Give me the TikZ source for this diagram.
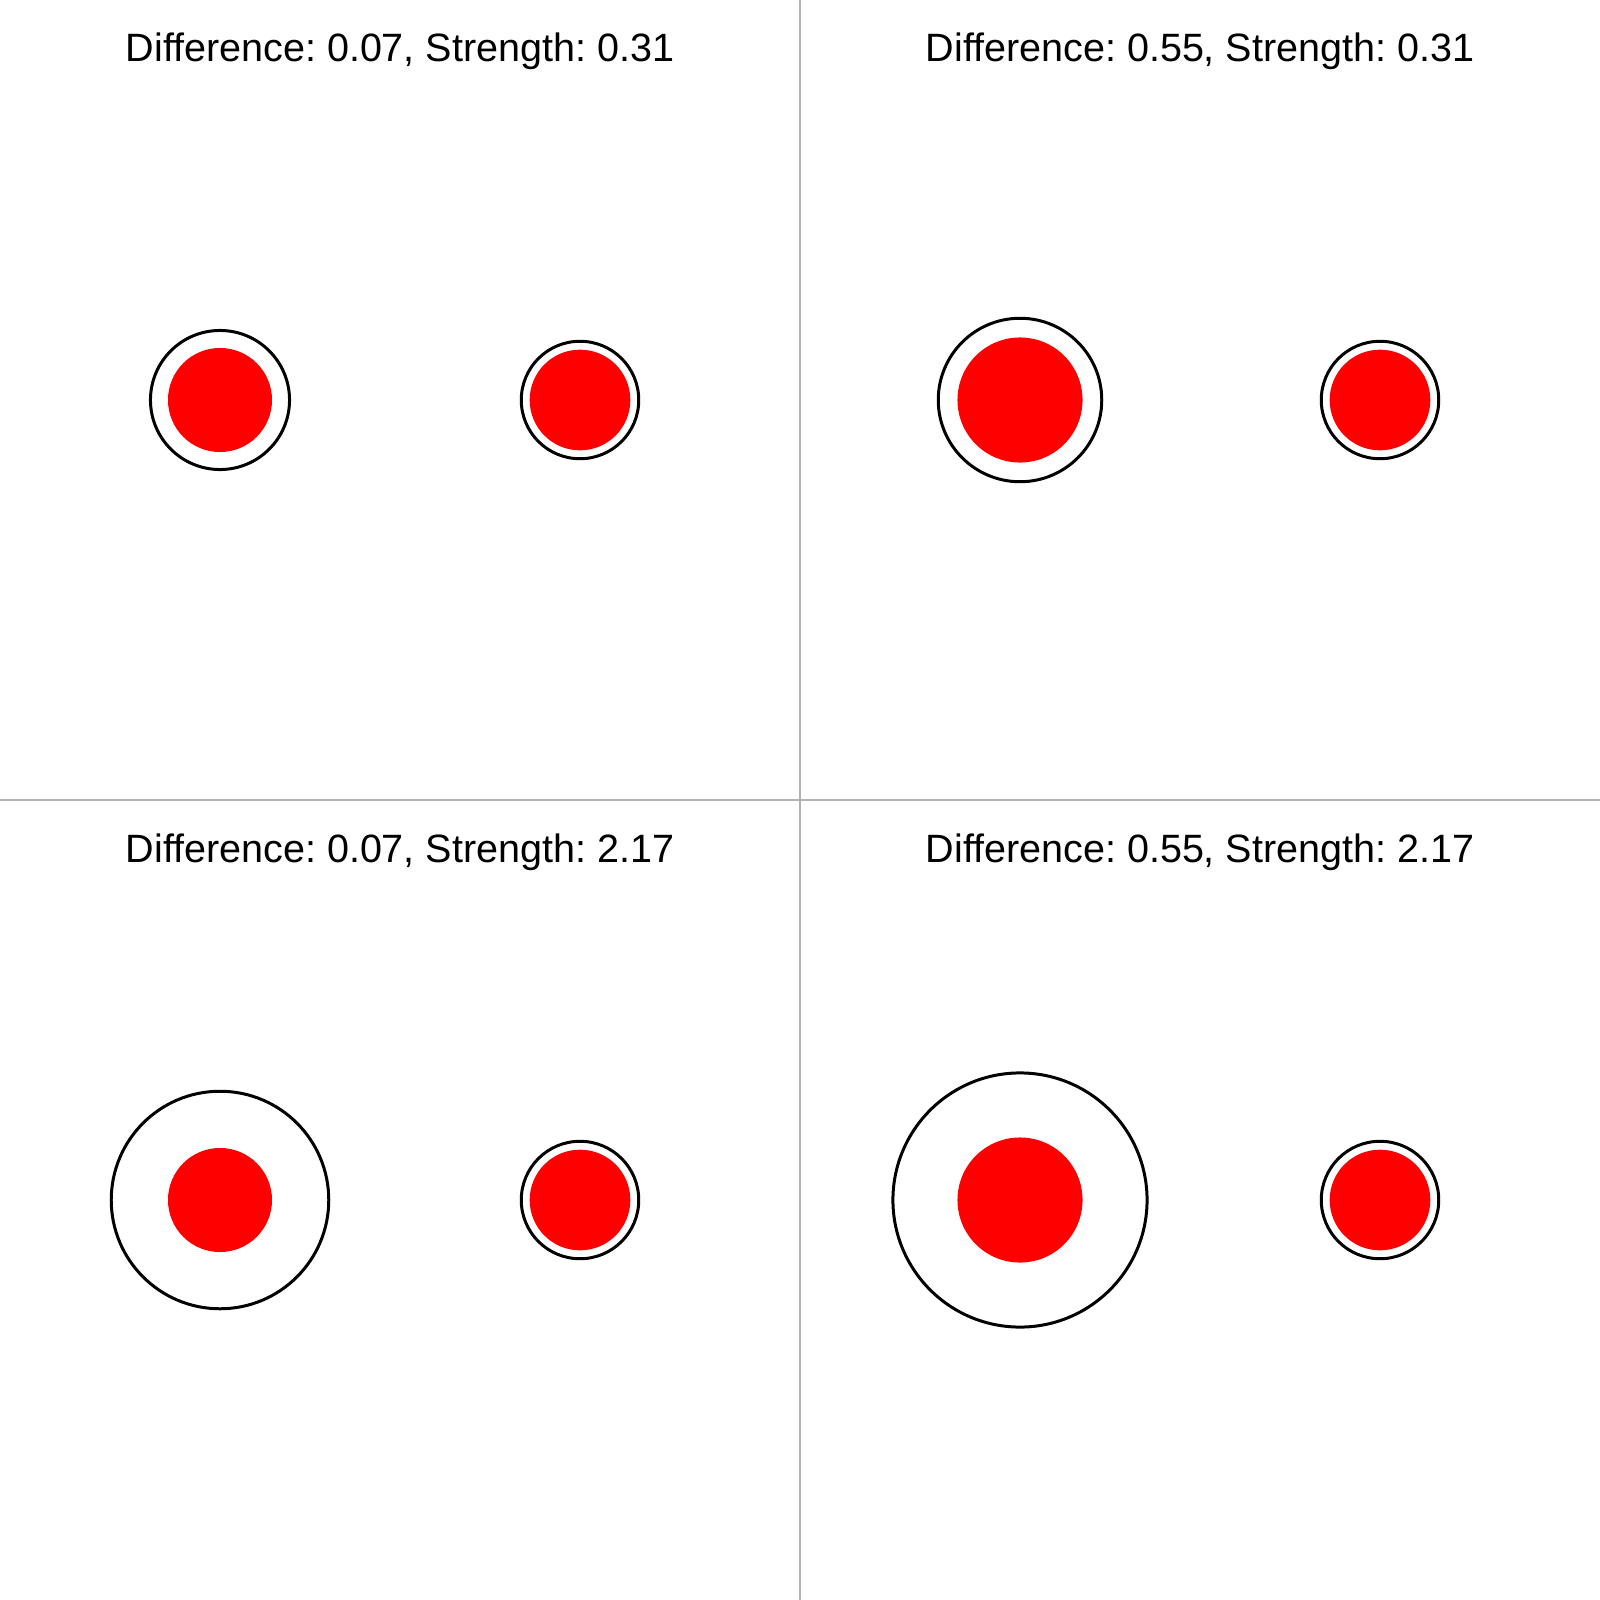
\documentclass[tikz,border=0pt]{standalone}
\usepackage{fontspec}
\setmainfont{Liberation Sans}
\frenchspacing
\begin{document}
\begin{tikzpicture}[x=0.01cm,y=-0.01cm,
  divider/.style={draw=black!30, line width=0.34pt},
  ring/.style={draw=black, line width=0.85pt},
  dot/.style={fill=red},
  title/.style={anchor=base, inner sep=0pt, font=\fontsize{11.24}{13}\selectfont}]
\useasboundingbox (0,0) rectangle (1600,1600);
\fill[white] (0,0) rectangle (1600,1600);
% dividers
\coordinate (vt) at (800,0);
\coordinate (vb) at (800,1600);
\coordinate (hl) at (0,800);
\coordinate (hr) at (1600,800);
\draw[divider] (vt) -- (vb);
\draw[divider] (hl) -- (hr);
% titles
\node[title] (t1) at (400,62) {Difference: 0.07, Strength: 0.31};
\node[title] (t2) at (1200,62) {Difference: 0.55, Strength: 0.31};
\node[title] (t3) at (400,862) {Difference: 0.07, Strength: 2.17};
\node[title] (t4) at (1200,862) {Difference: 0.55, Strength: 2.17};
% top-left panel
\coordinate (a1) at (220,400);
\coordinate (a2) at (580,400);
\fill[dot] (a1) circle[radius=0.52cm];
\draw[ring] (a1) circle[radius=0.695cm];
\fill[dot] (a2) circle[radius=0.503cm];
\draw[ring] (a2) circle[radius=0.587cm];
% top-right panel
\coordinate (b1) at (1020,400);
\coordinate (b2) at (1380,400);
\fill[dot] (b1) circle[radius=0.625cm];
\draw[ring] (b1) circle[radius=0.817cm];
\fill[dot] (b2) circle[radius=0.503cm];
\draw[ring] (b2) circle[radius=0.587cm];
% bottom-left panel
\coordinate (c1) at (220,1200);
\coordinate (c2) at (580,1200);
\fill[dot] (c1) circle[radius=0.52cm];
\draw[ring] (c1) circle[radius=1.087cm];
\fill[dot] (c2) circle[radius=0.503cm];
\draw[ring] (c2) circle[radius=0.587cm];
% bottom-right panel
\coordinate (d1) at (1020,1200);
\coordinate (d2) at (1380,1200);
\fill[dot] (d1) circle[radius=0.625cm];
\draw[ring] (d1) circle[radius=1.27cm];
\fill[dot] (d2) circle[radius=0.503cm];
\draw[ring] (d2) circle[radius=0.587cm];
\end{tikzpicture}
\end{document}
